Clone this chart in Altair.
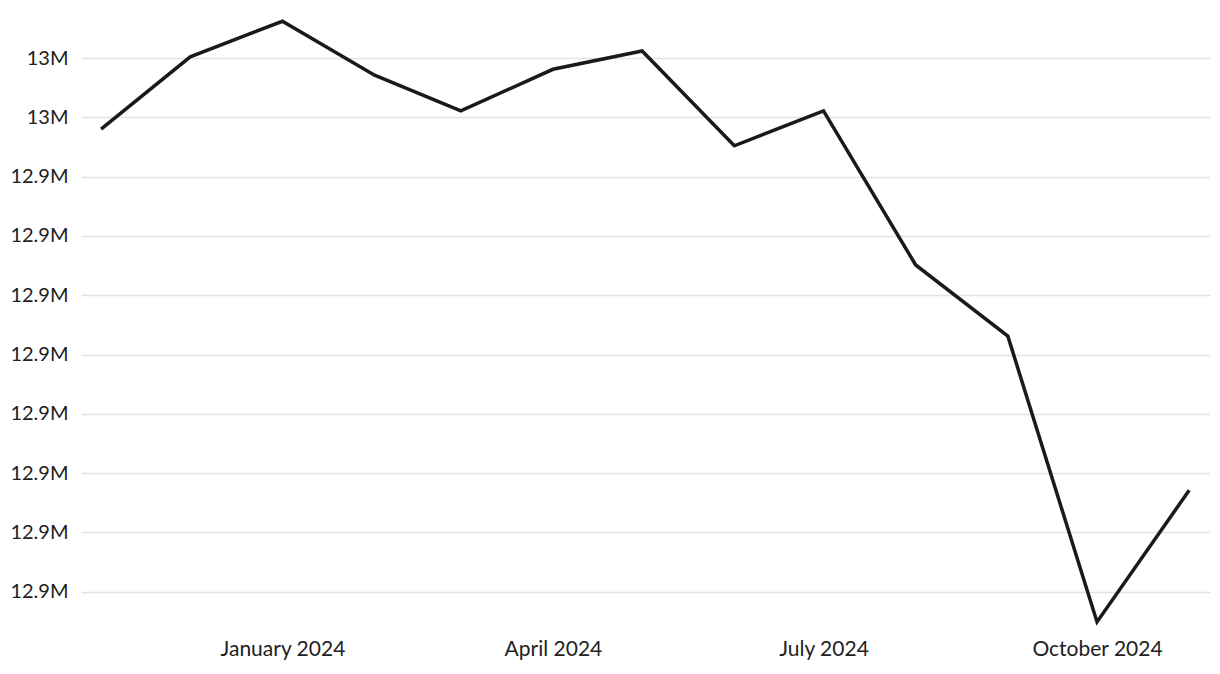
import altair as alt
import pandas as pd

months = ["2023-11-01", "2023-12-01", "2024-01-01", "2024-02-01", "2024-03-01",
          "2024-04-01", "2024-05-01", "2024-06-01", "2024-07-01", "2024-08-01",
          "2024-09-01", "2024-10-01", "2024-11-01"]
values = [12948000, 12960200, 12966200, 12957100, 12951100,
          12958100, 12961200, 12945200, 12951100, 12925100,
          12913100, 12864900, 12887100]

y_ticks = [12870000, 12880000, 12890000, 12900000, 12910000,
           12920000, 12930000, 12940000, 12950000, 12960000]

df = pd.DataFrame({"date": months, "value": values})

FONT = "Lato"

x_ticks = [alt.DateTime(year=2024, month=m, date=1, utc=True) for m in [1, 4, 7, 10]]

chart = alt.Chart(df).mark_line(color="#1a1a1a", strokeWidth=3.5).encode(
    x=alt.X("date:T",
            scale=alt.Scale(type="utc",
                            domain=[alt.DateTime(year=2023, month=10, date=25, hours=6, utc=True),
                                    alt.DateTime(year=2024, month=11, date=8, utc=True)]),
            axis=alt.Axis(title=None, values=x_ticks, format="%B %Y", grid=False,
                          domain=False, ticks=False, labelFontSize=21, labelFont=FONT,
                          labelColor="#222222", labelPadding=6)),
    y=alt.Y("value:Q",
            scale=alt.Scale(domain=[12863200, 12968100], nice=False, zero=False),
            axis=alt.Axis(title=None, values=y_ticks, format=".3~s", domain=False,
                          ticks=False, gridColor="#e3e3e3", gridWidth=1.5,
                          labelFontSize=20, labelFont=FONT, labelColor="#222222",
                          labelPadding=13)),
).properties(
    width=1129, height=622,
    autosize=alt.AutoSizeParams(type="none"),
    padding={"left": 73, "top": 2, "right": 2, "bottom": 40},
).configure_view(stroke=None)

chart.save("out.html", embed_options={"renderer": "svg", "actions": False})
